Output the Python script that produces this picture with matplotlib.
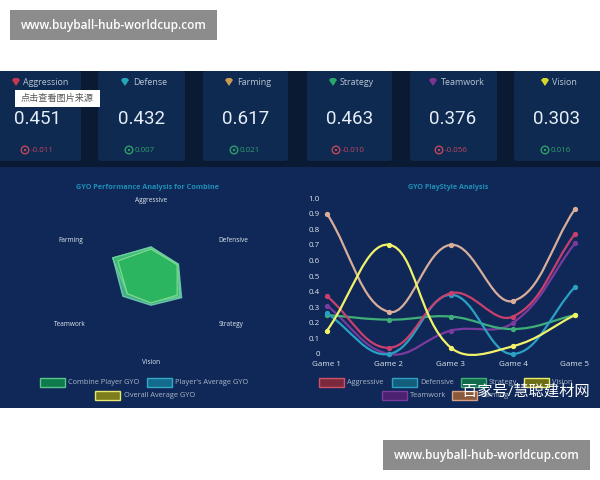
import numpy as np
import matplotlib
matplotlib.use('Agg')
import matplotlib.pyplot as plt
from matplotlib.patches import Rectangle, FancyBboxPatch, Circle, Polygon, PathPatch
from matplotlib.path import Path

plt.rcParams['font.family'] = ['Open Sans', 'Noto Sans CJK SC', 'DejaVu Sans']

SITE = 'www.buyball-hub-worldcup.com'

# stat cards
card_names = ['Aggression', 'Defense', 'Farming', 'Strategy', 'Teamwork', 'Vision']
card_values = [0.451, 0.432, 0.617, 0.463, 0.376, 0.303]
card_deltas = [-0.011, 0.007, 0.021, -0.010, -0.056, 0.016]
card_colors = ['#c8384f', '#26a6b8', '#c99a52', '#27a86a', '#7b3590', '#d6d62e']

# radar
radar_axes = ['Aggressive', 'Defensive', 'Strategy', 'Vision', 'Teamwork', 'Farming']
combine_gyo = [0.451, 0.432, 0.463, 0.303, 0.376, 0.617]
player_avg_gyo = [0.46, 0.44, 0.49, 0.35, 0.45, 0.61]
overall_avg_gyo = [0.43, 0.42, 0.42, 0.32, 0.38, 0.53]

# playstyle lines
games = ['Game 1', 'Game 2', 'Game 3', 'Game 4', 'Game 5']
y_ticks = [0, 0.1, 0.2, 0.3, 0.4, 0.5, 0.6, 0.7, 0.8, 0.9, 1.0]
y_labels = ['0', '0.1', '0.2', '0.3', '0.4', '0.5', '0.6', '0.7', '0.8', '0.9', '1.0']
aggressive = [0.37, 0.04, 0.39, 0.24, 0.77]
defensive = [0.26, 0.00, 0.38, 0.00, 0.43]
strategy = [0.25, 0.22, 0.24, 0.16, 0.25]
vision = [0.15, 0.70, 0.04, 0.05, 0.25]
teamwork = [0.31, 0.00, 0.15, 0.20, 0.71]
farming = [0.90, 0.27, 0.70, 0.34, 0.93]

W, H = 600, 480
LINE_LEFT, LINE_RIGHT, LINE_TOP, LINE_BOTTOM = 327, 575, 198, 354


def px_axes(fig, left, top, right, bottom, **kw):
    return fig.add_axes([left / W, 1 - bottom / H, (right - left) / W, (bottom - top) / H], **kw)


def spline_path(ys, tension=0.4):
    # bezier spline with control arms weighted by on-screen segment length
    sx = (LINE_RIGHT - LINE_LEFT) / (len(ys) - 1)
    sy = LINE_BOTTOM - LINE_TOP
    xs = np.arange(len(ys), dtype=float)
    ys = np.asarray(ys, dtype=float)
    n = len(ys)
    before, after = [None] * n, [None] * n
    for i in range(n):
        p0 = i - 1 if i > 0 else i
        p2 = i + 1 if i < n - 1 else i
        d01 = np.hypot((xs[i] - xs[p0]) * sx, (ys[i] - ys[p0]) * sy)
        d12 = np.hypot((xs[p2] - xs[i]) * sx, (ys[p2] - ys[i]) * sy)
        fa = tension * d01 / (d01 + d12)
        fb = tension * d12 / (d01 + d12)
        before[i] = (xs[i] - fa * (xs[p2] - xs[p0]), ys[i] - fa * (ys[p2] - ys[p0]))
        after[i] = (xs[i] + fb * (xs[p2] - xs[p0]), ys[i] + fb * (ys[p2] - ys[p0]))
    verts = [(xs[0], ys[0])]
    codes = [Path.MOVETO]
    for i in range(n - 1):
        verts += [after[i], before[i + 1], (xs[i + 1], ys[i + 1])]
        codes += [Path.CURVE4] * 3
    return Path(verts, codes)


fig = plt.figure(figsize=(6, 4.8), dpi=100, facecolor='white')
bg = px_axes(fig, 0, 0, W, H)
bg.set_xlim(0, W)
bg.set_ylim(H, 0)
bg.axis('off')

# page bands
bg.add_patch(Rectangle((0, 71), 600, 97, fc='#0a1a33', ec='none'))
bg.add_patch(Rectangle((0, 167), 600, 241, fc='#0f2857', ec='none'))

# site banners
for x0, y0 in [(10, 10), (383, 440)]:
    bg.add_patch(Rectangle((x0, y0), 207, 30, fc='#8c8c8c', ec='none'))
    bg.text(x0 + 103.5, y0 + 15, SITE, color='white', fontsize=8.6, fontweight='semibold',
            ha='center', va='center')

# stat cards
card_x = [(-6, 81), (98, 185), (203, 288), (307, 392), (410, 497), (514, 606)]
icon_x = [16, 125, 229, 333, 433, 545]
name_x = [23, 133, 237, 340, 441, 552]
value_x = [37.5, 142, 246, 349.5, 453, 557]
delta_x = [25, 129, 234, 336, 439, 545]
for i, name in enumerate(card_names):
    x0, x1 = card_x[i]
    bg.add_patch(FancyBboxPatch((x0, 71), x1 - x0, 90, boxstyle='round,pad=0,rounding_size=2.5',
                                fc='#0f2a50', ec='none'))
    gx = icon_x[i]
    bg.add_patch(Polygon([(gx - 4, 80), (gx - 2, 78), (gx + 2, 78), (gx + 4, 80), (gx, 86)],
                         fc=card_colors[i], ec='none'))
    bg.text(name_x[i], 82.5, name, color='#b9c6d6', fontsize=6.4, ha='left', va='center')
    bg.text(value_x[i], 119, f'{card_values[i]:.3f}', color='#e6eef7', fontsize=13.5,
            family=['Roboto', 'DejaVu Sans'], ha='center', va='center')
    dcol = '#2f9e6e' if card_deltas[i] > 0 else '#c0455f'
    bg.add_patch(Circle((delta_x[i], 150), 3.8, fc='none', ec=dcol, lw=1))
    bg.add_patch(Circle((delta_x[i], 150), 1.2, fc=dcol, ec='none'))
    bg.text(delta_x[i] + 6, 150, f'{card_deltas[i]:.3f}', color=dcol, fontsize=5.8, ha='left', va='center')

# image source tooltip
bg.add_patch(Rectangle((15, 90), 85, 17, fc='white', ec='none', zorder=5))
bg.text(57.5, 98.5, '点击查看图片来源', color='#555555', fontsize=6.6, ha='center', va='center', zorder=6)

# radar panel
bg.text(147.5, 187.5, 'GYO Performance Analysis for Combine', color='#1f8fb8', fontsize=5.2,
        fontweight='bold', ha='center', va='center')
radar = px_axes(fig, 79, 208, 223, 352, projection='polar')
radar.patch.set_alpha(0)
radar.set_theta_zero_location('N')
radar.set_theta_direction(-1)
radar.set_ylim(0, 1)
radar.set_xticks([])
radar.set_yticks([])
radar.spines['polar'].set_visible(False)
radar.grid(False)
angles = np.linspace(0, 2 * np.pi, len(radar_axes), endpoint=False)
radar.fill(angles, player_avg_gyo, fc='#45b888', ec='#6cc8b0', lw=1, alpha=0.95)
radar.fill(angles, combine_gyo, fc='#3dbb7a', ec='#6fd09a', lw=0.9, alpha=0.95)
radar.fill(angles, overall_avg_gyo, fc='#2bb560', ec='#7fdc8c', lw=0.9, alpha=0.95)
radar_label_pos = [(151, 201), (233, 241), (231, 324), (151, 362), (70, 324), (71, 241)]
for label, (lx, ly) in zip(radar_axes, radar_label_pos):
    bg.text(lx, ly, label, color='#dfe6ee', fontsize=4.7, ha='center', va='center')

# line panel
bg.text(448, 187.5, 'GYO PlayStyle Analysis', color='#1f8fb8', fontsize=5.1, fontweight='bold',
        ha='center', va='center')
ax = px_axes(fig, LINE_LEFT, LINE_TOP, LINE_RIGHT, LINE_BOTTOM)
ax.patch.set_alpha(0)
ax.set_xlim(0, 4)
ax.set_ylim(0, 1)
for s in ax.spines.values():
    s.set_visible(False)
ax.set_xticks(range(len(games)), games)
ax.set_yticks(y_ticks, y_labels)
ax.tick_params(length=0, colors='#dfe6ee', labelsize=5.8)
ax.tick_params(axis='x', pad=5)
ax.tick_params(axis='y', pad=5)

series = [(teamwork, '#7a3a9e'),
          (strategy, '#3fae78'),
          (defensive, '#2aa0c4'),
          (aggressive, '#c9406f'),
          (farming, '#d8ae9a'),
          (vision, '#f2f26a')]
for values, col in series:
    ax.add_patch(PathPatch(spline_path(values), fc='none', ec=col, lw=1.6, clip_on=False, capstyle='round'))
    ax.plot(range(len(values)), values, 'o', ms=2.8, color=col, clip_on=False)

# legends
text_col = '#aab6c6'


def legend_item(x0, y0, w, fc, ec, label, tx):
    bg.add_patch(Rectangle((x0, y0), w, 8.5, fc=fc, ec=ec, lw=1))
    bg.text(tx, y0 + 4.2, label, color=text_col, fontsize=5.3, ha='left', va='center')


legend_item(40, 378, 25, '#0f7a4c', '#58c48c', 'Combine Player GYO', 68)
legend_item(147, 378, 25, '#136a8c', '#35a8c8', "Player's Average GYO", 175)
legend_item(95, 391, 25, '#7d7d1e', '#e8e86a', 'Overall Average GYO', 124)

legend_item(319, 378, 25, '#7a2a3c', '#d0506a', 'Aggressive', 347)
legend_item(392, 378, 25, '#125e7c', '#2fa0c4', 'Defensive', 420)
legend_item(461, 378, 25, '#0f6a4a', '#3fae78', 'Strategy', 489)
legend_item(524, 378, 25, '#6d6d18', '#eeee66', 'Vision', 552)
legend_item(382, 391, 25, '#4a2270', '#7a3a9e', 'Teamwork', 410)
legend_item(452, 391, 25, '#8a5a3a', '#d8a080', 'Farming', 480)

# watermark
bg.text(526, 392, '百家号/慧聪建材网', color='white', fontsize=11, ha='center', va='center', zorder=6)

fig.savefig('out.png', dpi=100)
